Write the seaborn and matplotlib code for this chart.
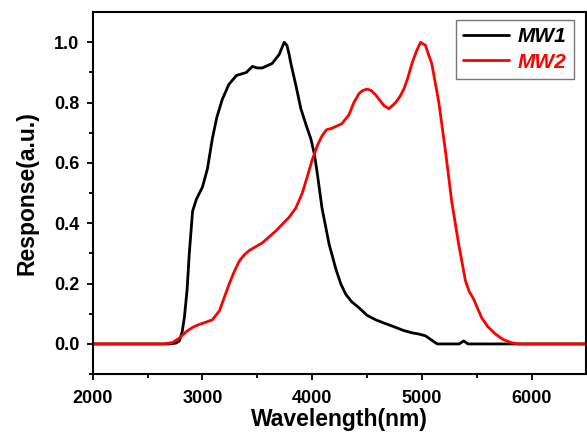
import matplotlib
matplotlib.use("Agg")
import matplotlib.pyplot as plt
import numpy as np
import pandas as pd
import seaborn as sns

# wavelength (nm) and response
mw1_x = [2000, 2700, 2760, 2790, 2815, 2836, 2860, 2880, 2910, 2945, 3000, 3045, 3090,
         3130, 3180, 3240, 3310, 3400, 3455, 3500, 3545, 3636, 3700, 3745, 3770, 3790,
         3806, 3850, 3897, 3950, 3988, 4020, 4045, 4090, 4155, 4215, 4260, 4306, 4360,
         4427, 4500, 4579, 4650, 4760, 4830, 4909, 4970, 5033, 5080, 5140, 5340, 5382,
         5420, 6500]
mw1_y = [0.0, 0.0, 0.003, 0.01, 0.04, 0.09, 0.18, 0.3, 0.44, 0.48, 0.52, 0.58, 0.68,
         0.75, 0.81, 0.86, 0.89, 0.90, 0.92, 0.915, 0.915, 0.93, 0.96, 1.0, 0.99, 0.96,
         0.93, 0.86, 0.78, 0.72, 0.68, 0.63, 0.57, 0.45, 0.33, 0.25, 0.2, 0.165, 0.14,
         0.12, 0.095, 0.08, 0.07, 0.055, 0.045, 0.037, 0.033, 0.027, 0.015, 0.0, 0.0,
         0.01, 0.0, 0.0]

mw2_x = [2000, 2650, 2730, 2790, 2850, 2910, 2973, 3030, 3090, 3155, 3200, 3245, 3290,
         3336, 3380, 3427, 3545, 3670, 3790, 3850, 3910, 3960, 4000, 4050, 4090, 4130,
         4180, 4270, 4336, 4380, 4427, 4460, 4500, 4540, 4580, 4655, 4700, 4760, 4800,
         4836, 4870, 4910, 4950, 4988, 5033, 5060, 5090, 5120, 5155, 5215, 5273, 5336,
         5397, 5430, 5470, 5545, 5600, 5670, 5740, 5818, 5880, 6500]
mw2_y = [0.0, 0.0, 0.005, 0.02, 0.04, 0.055, 0.065, 0.072, 0.08, 0.11, 0.155, 0.2, 0.24,
         0.275, 0.295, 0.31, 0.335, 0.375, 0.42, 0.45, 0.5, 0.56, 0.61, 0.66, 0.69, 0.71,
         0.715, 0.73, 0.76, 0.8, 0.83, 0.84, 0.845, 0.84, 0.825, 0.79, 0.78, 0.8, 0.82,
         0.845, 0.88, 0.93, 0.97, 1.0, 0.99, 0.96, 0.93, 0.87, 0.8, 0.64, 0.47, 0.33,
         0.21, 0.175, 0.15, 0.087, 0.058, 0.033, 0.015, 0.004, 0.0, 0.0]

df = pd.concat([
    pd.DataFrame({"Wavelength": mw1_x, "Response": mw1_y, "series": "MW1"}),
    pd.DataFrame({"Wavelength": mw2_x, "Response": mw2_y, "series": "MW2"}),
])

sns.set_style("ticks")
plt.rcParams['font.family'] = ['Liberation Sans', 'DejaVu Sans']

fig = plt.figure(figsize=(5.87, 4.34), dpi=100)
ax = fig.add_axes([0.158, 0.138, 0.841, 0.834])

sns.lineplot(data=df, x="Wavelength", y="Response", hue="series",
             palette={"MW1": "black", "MW2": "#ff0000"}, lw=2, sort=False,
             estimator=None, ax=ax)

ax.set_xlim(2000, 6500)
ax.set_ylim(-0.1, 1.1)
ax.set_xticks([2000, 3000, 4000, 5000, 6000])
ax.set_xticks([2500, 3500, 4500, 5500], minor=True)
ax.set_yticks([0.0, 0.2, 0.4, 0.6, 0.8, 1.0])
ax.set_yticks([-0.1, 0.1, 0.3, 0.5, 0.7, 0.9], minor=True)
ax.tick_params(which='both', direction='out', width=1.3, labelsize=13,
               colors='black')
ax.tick_params(which='major', length=4.5)
ax.tick_params(which='minor', length=3)
ax.tick_params(axis='x', which='major', pad=7)
ax.tick_params(axis='y', which='major', pad=5)
for lab in ax.get_xticklabels() + ax.get_yticklabels():
    lab.set_fontweight('bold')
for sp in ax.spines.values():
    sp.set_linewidth(1.5)
    sp.set_color('black')

ax.set_xlabel('Wavelength(nm)', fontsize=16.5, fontweight='bold', labelpad=0.5,
              color='black')
ax.set_ylabel('Response(a.u.)', fontsize=16.5, fontweight='bold', labelpad=11,
              color='black')

leg = ax.legend(loc='upper right', fontsize=15, frameon=True, fancybox=False,
                edgecolor='#555555', handlelength=2.2, borderpad=0.35,
                labelspacing=0.3, handletextpad=0.4, borderaxespad=0,
                bbox_to_anchor=(0.974, 0.978))
leg.get_frame().set_linewidth(1.0)
for txt, col in zip(leg.get_texts(), ["black", "#ff0000"]):
    txt.set_color(col)
    txt.set_fontweight('bold')
    txt.set_fontstyle('italic')

fig.savefig("out.png", dpi=100)
